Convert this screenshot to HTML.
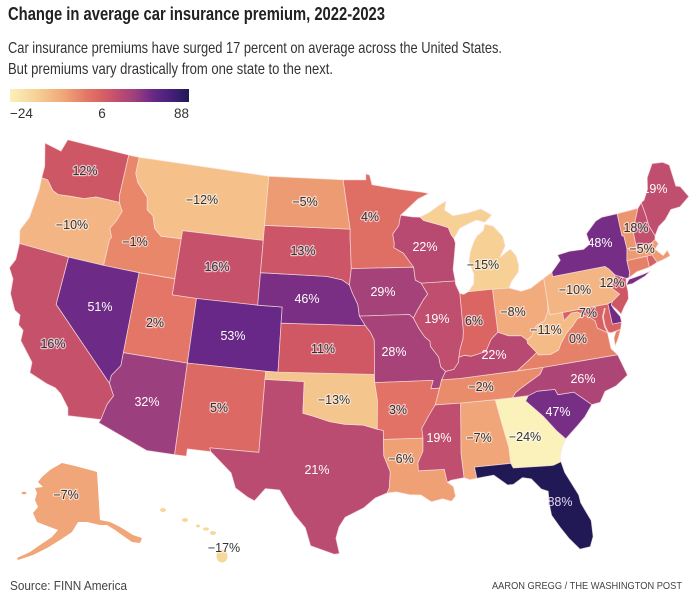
<!DOCTYPE html>
<html><head><meta charset="utf-8"><style>
html,body{margin:0;padding:0;background:#fff;}
svg{display:block;}
text{font-family:"Liberation Sans",Arial,sans-serif;}
.lb{font-size:12.5px;text-anchor:middle;}
.dk{fill:#333;stroke:rgba(255,255,255,0.6);stroke-width:2.4px;paint-order:stroke;stroke-linejoin:round;}
.wh{fill:#fff;}
</style></head><body>
<svg id="m" width="696" height="600" viewBox="0 0 696 600" xmlns="http://www.w3.org/2000/svg">
<defs>
<linearGradient id="lg" x1="0" x2="1" y1="0" y2="0">
<stop offset="0" stop-color="#fbf1bb"/>
<stop offset="0.15" stop-color="#f6d095"/>
<stop offset="0.3" stop-color="#f0a678"/>
<stop offset="0.43" stop-color="#e37666"/>
<stop offset="0.5" stop-color="#da6562"/>
<stop offset="0.6" stop-color="#c14e6d"/>
<stop offset="0.7" stop-color="#9c3f7e"/>
<stop offset="0.8" stop-color="#682887"/>
<stop offset="0.9" stop-color="#45207a"/>
<stop offset="1" stop-color="#211955"/>
</linearGradient>
</defs>
<rect width="696" height="600" fill="#fff"/>
<text x="8" y="20" font-size="18.5" font-weight="bold" fill="#222" textLength="377" lengthAdjust="spacingAndGlyphs">Change in average car insurance premium, 2022-2023</text>
<text x="8" y="53" font-size="16" fill="#333" textLength="494" lengthAdjust="spacingAndGlyphs">Car insurance premiums have surged 17 percent on average across the United States.</text>
<text x="8" y="74" font-size="16" fill="#333" textLength="325" lengthAdjust="spacingAndGlyphs">But premiums vary drastically from one state to the next.</text>
<rect x="10" y="89" width="179" height="13" fill="url(#lg)"/>
<text x="10" y="118" font-size="13.5" fill="#333">−24</text>
<text x="102" y="118" font-size="13.5" fill="#333" text-anchor="middle">6</text>
<text x="189" y="118" font-size="13.5" fill="#333" text-anchor="end">88</text>

<g id="states" stroke="#fbe3e0" stroke-opacity="0.75" stroke-width="0.8" stroke-linejoin="round"></g>

<g id="insets" stroke="none">
<polygon fill="#f0a678" points="42,477 50,470 62,463 75,466 90,470 97,472 100,520 110,522 120,527 133,535 142,538 140,543 132,542 122,535 115,530 107,525 100,525 87,522 78,522 72,532 60,540 47,548 33,555 18,560 17,558 30,552 40,545 52,537 58,530 50,527 37,522 33,513 38,507 35,500 37,493 35,488 43,487 38,482"/>
<ellipse cx="24" cy="493" rx="2.5" ry="1.2" fill="#f0a678"/>
<g fill="#f7d79a">
<ellipse cx="163" cy="510" rx="3" ry="2"/>
<ellipse cx="185" cy="520" rx="3" ry="2"/>
<ellipse cx="198" cy="526" rx="2" ry="1.5"/>
<ellipse cx="206" cy="529" rx="3" ry="1.6"/>
<ellipse cx="213" cy="533" rx="3" ry="2"/>
<ellipse cx="222" cy="556" rx="5.5" ry="6.5"/>
</g>
</g>

<g id="labels">
<text class="lb dk" x="85" y="175">12%</text>
<text class="lb dk" x="202" y="204">−12%</text>
<text class="lb dk" x="305" y="206">−5%</text>
<text class="lb dk" x="72" y="229">−10%</text>
<text class="lb dk" x="135" y="246">−1%</text>
<text class="lb dk" x="303" y="255">13%</text>
<text class="lb dk" x="217" y="271">16%</text>
<text class="lb wh" x="307" y="303">46%</text>
<text class="lb wh" x="100" y="311">51%</text>
<text class="lb dk" x="155" y="327">2%</text>
<text class="lb wh" x="233" y="340">53%</text>
<text class="lb dk" x="53" y="348">16%</text>
<text class="lb dk" x="323" y="353">11%</text>
<text class="lb wh" x="655" y="193">19%</text>
<text class="lb dk" x="370" y="221">4%</text>
<text class="lb dk" x="636" y="232">18%</text>
<text class="lb wh" x="425" y="251">22%</text>
<text class="lb wh" x="600" y="247">48%</text>
<text class="lb dk" x="642" y="253">−5%</text>
<text class="lb dk" x="483" y="269">−15%</text>
<text class="lb wh" x="383" y="296">29%</text>
<text class="lb dk" x="575" y="294">−10%</text>
<text class="lb dk" x="612" y="287">12%</text>
<text class="lb dk" x="513" y="316">−8%</text>
<text class="lb dk" x="588" y="317">7%</text>
<text class="lb wh" x="437" y="323">19%</text>
<text class="lb dk" x="474" y="325">6%</text>
<text class="lb dk" x="546" y="334">−11%</text>
<text class="lb dk" x="578" y="343">0%</text>
<text class="lb wh" x="394" y="356">28%</text>
<text class="lb wh" x="494" y="359">22%</text>
<text class="lb wh" x="583" y="383">26%</text>
<text class="lb wh" x="147" y="406">32%</text>
<text class="lb dk" x="219" y="412">5%</text>
<text class="lb dk" x="334" y="404">−13%</text>
<text class="lb wh" x="317" y="474">21%</text>
<text class="lb dk" x="481" y="391">−2%</text>
<text class="lb dk" x="398" y="414">3%</text>
<text class="lb wh" x="558" y="416">47%</text>
<text class="lb wh" x="439" y="442">19%</text>
<text class="lb dk" x="479" y="442">−7%</text>
<text class="lb dk" x="525" y="441">−24%</text>
<text class="lb dk" x="401" y="463">−6%</text>
<text class="lb" x="560" y="506" fill="#e4d6f0">88%</text>
<text class="lb dk" x="66" y="499">−7%</text>
<text class="lb dk" x="224" y="552">−17%</text>
</g>

<text x="10" y="590" font-size="12.5" fill="#444" textLength="117" lengthAdjust="spacingAndGlyphs">Source: FINN America</text>
<text x="682" y="589" font-size="10.5" fill="#444" text-anchor="end" textLength="190" lengthAdjust="spacingAndGlyphs">AARON GREGG / THE WASHINGTON POST</text>
</svg>
<script>
(function(){
var D=Math.PI/180,s1=Math.sin(29.5*D),s2=Math.sin(45.5*D),n=(s1+s2)/2,
C=Math.cos(29.5*D)*Math.cos(29.5*D)+2*n*s1,r0=Math.sqrt(C-2*n*Math.sin(37.5*D))/n;
function P(p){var r=Math.sqrt(C-2*n*Math.sin(p[1]*D))/n,t=n*(p[0]+96)*D;
return (356.6+942*r*Math.sin(t)).toFixed(1)+','+(366.4-926*(r0-r*Math.cos(t))).toFixed(1);}
var stops=[[-24,[251,241,187]],[-15,[246,208,149]],[-12,[245,192,138]],[-10,[243,181,132]],[-7,[240,166,120]],[-5,[237,155,114]],[-1,[232,135,106]],[2,[227,118,102]],[6,[218,101,98]],[11,[208,88,101]],[16,[198,81,107]],[22,[184,74,114]],[29,[165,66,122]],[32,[156,63,126]],[46,[122,47,133]],[53,[104,40,135]],[70,[69,32,122]],[88,[33,25,85]]];
function col(v){for(var i=0;i<stops.length-1;i++){var a=stops[i],b=stops[i+1];if(v<=b[0]){var f=(v-a[0])/(b[0]-a[0]);if(f<0)f=0;var c=a[1].map(function(x,k){return Math.round(x+(b[1][k]-x)*f);});return 'rgb('+c.join(',')+')';}}return 'rgb(33,25,85)';}
var S=[
[12,[[-124.7,48.4],[-123.1,48.2],[-122.8,49.0],[-117.03,49.0],[-117.03,46.42],[-116.92,46.0],[-119.0,46.0],[-120.0,45.72],[-121.2,45.65],[-122.25,45.55],[-122.8,45.7],[-123.5,46.25],[-124.05,46.26],[-124.1,47.0]]],
[-10,[[-124.05,46.26],[-123.5,46.25],[-122.8,45.7],[-122.25,45.55],[-121.2,45.65],[-120.0,45.72],[-119.0,46.0],[-116.92,46.0],[-116.5,45.5],[-116.78,44.9],[-117.2,44.3],[-116.9,43.8],[-117.03,43.6],[-117.03,42.0],[-120.0,42.0],[-124.2,42.0],[-124.5,42.8],[-124.05,43.7],[-123.95,45.5]]],
[-1,[[-117.03,49.0],[-116.05,49.0],[-116.05,47.98],[-115.7,47.45],[-114.6,46.65],[-114.4,45.9],[-113.8,45.6],[-113.45,44.85],[-112.8,44.45],[-111.05,44.5],[-111.05,42.0],[-114.04,42.0],[-117.03,42.0],[-117.03,43.6],[-116.9,43.8],[-117.2,44.3],[-116.78,44.9],[-116.5,45.5],[-116.92,46.0],[-117.03,46.42]]],
[-12,[[-116.05,49.0],[-104.05,49.0],[-104.05,45.94],[-104.05,45.0],[-111.05,45.0],[-111.05,44.5],[-112.8,44.45],[-113.45,44.85],[-113.8,45.6],[-114.4,45.9],[-114.6,46.65],[-115.7,47.45],[-116.05,47.98]]],
[16,[[-111.05,45.0],[-104.05,45.0],[-104.05,43.0],[-104.05,41.0],[-109.05,41.0],[-111.05,41.0],[-111.05,42.0],[-111.05,44.5]]],
[51,[[-120.0,42.0],[-117.03,42.0],[-114.04,42.0],[-114.04,37.0],[-114.04,36.2],[-114.6,35.5],[-114.63,35.0],[-120.0,39.0]]],
[2,[[-114.04,42.0],[-111.05,42.0],[-111.05,41.0],[-109.05,41.0],[-109.05,37.0],[-114.04,37.0]]],
[32,[[-114.04,37.0],[-109.05,37.0],[-109.05,31.33],[-111.07,31.33],[-114.82,32.5],[-114.72,32.72],[-114.5,33.7],[-114.15,34.3],[-114.63,35.0],[-114.6,35.5],[-114.04,36.2]]],
[16,[[-124.2,42.0],[-120.0,42.0],[-120.0,39.0],[-114.63,35.0],[-114.15,34.3],[-114.5,33.7],[-114.72,32.72],[-117.12,32.53],[-117.25,33.0],[-118.0,33.75],[-118.5,34.03],[-119.2,34.15],[-120.6,34.55],[-120.65,35.2],[-121.9,36.3],[-121.95,36.95],[-122.4,37.2],[-122.5,37.8],[-123.0,38.0],[-123.7,38.9],[-123.85,39.8],[-124.4,40.4],[-124.1,41.0]]],
[53,[[-109.05,41.0],[-104.05,41.0],[-102.05,41.0],[-102.05,40.0],[-102.05,37.0],[-103.0,37.0],[-109.05,37.0]]],
[5,[[-109.05,37.0],[-103.0,37.0],[-103.0,36.5],[-103.05,32.0],[-106.6,32.0],[-106.5,31.78],[-108.2,31.78],[-108.2,31.33],[-109.05,31.33]]],
[21,[[-103.0,36.5],[-100.0,36.5],[-100.0,34.56],[-99.2,34.4],[-98.0,34.1],[-96.9,33.95],[-95.5,33.9],[-94.48,33.64],[-94.04,33.55],[-94.04,33.0],[-94.04,32.0],[-93.6,31.0],[-93.7,30.0],[-93.85,29.7],[-94.7,29.4],[-95.5,28.8],[-96.8,28.2],[-97.2,27.6],[-97.4,26.9],[-97.15,25.95],[-97.5,25.9],[-99.1,26.4],[-99.5,27.5],[-100.3,28.3],[-101.4,29.77],[-102.4,29.8],[-103.1,29.0],[-103.6,29.2],[-104.5,29.7],[-104.9,30.6],[-106.5,31.78],[-106.6,32.0],[-103.05,32.0]]],
[-13,[[-103.0,37.0],[-102.05,37.0],[-94.62,37.0],[-94.62,36.5],[-94.43,35.4],[-94.48,33.64],[-95.5,33.9],[-96.9,33.95],[-98.0,34.1],[-99.2,34.4],[-100.0,34.56],[-100.0,36.5],[-103.0,36.5]]],
[11,[[-102.05,40.0],[-95.3,40.0],[-94.9,39.6],[-94.6,39.1],[-94.62,37.0],[-102.05,37.0]]],
[46,[[-104.05,43.0],[-98.5,43.0],[-97.2,42.8],[-96.6,42.5],[-96.35,42.0],[-95.9,41.3],[-95.77,40.58],[-95.3,40.0],[-102.05,40.0],[-102.05,41.0],[-104.05,41.0]]],
[13,[[-104.05,45.94],[-96.56,45.94],[-96.56,45.4],[-96.45,43.5],[-96.6,42.5],[-97.2,42.8],[-98.5,43.0],[-104.05,43.0]]],
[-5,[[-104.05,49.0],[-97.23,49.0],[-96.9,47.5],[-96.56,45.94],[-104.05,45.94]]],
[4,[[-97.23,49.0],[-95.15,49.0],[-95.15,49.38],[-94.8,49.3],[-94.6,48.7],[-93.5,48.55],[-92.0,48.35],[-90.0,48.1],[-89.5,48.0],[-90.5,47.7],[-92.1,46.75],[-92.3,46.1],[-92.85,45.6],[-92.75,45.0],[-92.8,44.75],[-92.0,44.4],[-91.2,43.5],[-96.45,43.5],[-96.56,45.4],[-96.56,45.94],[-96.9,47.5]]],
[29,[[-96.45,43.5],[-91.2,43.5],[-91.1,42.7],[-90.64,42.5],[-90.15,41.8],[-90.5,41.5],[-91.1,40.8],[-91.42,40.38],[-91.73,40.61],[-95.77,40.58],[-95.9,41.3],[-96.35,42.0],[-96.6,42.5]]],
[28,[[-95.77,40.58],[-91.73,40.61],[-91.42,40.38],[-91.0,39.7],[-90.6,39.2],[-90.2,38.9],[-90.2,38.6],[-89.6,37.9],[-89.5,37.3],[-89.15,37.0],[-89.5,36.5],[-89.7,36.0],[-90.37,36.0],[-90.15,36.5],[-94.62,36.5],[-94.62,37.0],[-94.6,39.1],[-94.9,39.6],[-95.3,40.0]]],
[3,[[-94.62,36.5],[-90.15,36.5],[-90.37,36.0],[-89.7,36.0],[-90.1,35.0],[-90.6,34.4],[-91.2,33.6],[-91.15,33.0],[-94.04,33.0],[-94.04,33.55],[-94.48,33.64],[-94.43,35.4]]],
[-6,[[-94.04,33.0],[-91.15,33.0],[-91.2,32.2],[-91.6,31.5],[-91.6,31.0],[-89.75,31.0],[-89.6,30.2],[-89.2,29.9],[-89.1,29.3],[-89.4,29.0],[-90.0,29.2],[-90.8,29.05],[-91.5,29.5],[-92.3,29.55],[-93.2,29.75],[-93.85,29.7],[-93.7,30.0],[-93.6,31.0],[-94.04,32.0]]],
[19,[[-90.1,35.0],[-88.2,35.0],[-88.47,31.9],[-88.4,30.4],[-89.35,30.3],[-89.6,30.2],[-89.75,31.0],[-91.6,31.0],[-91.6,31.5],[-91.2,32.2],[-91.15,33.0],[-91.2,33.6],[-90.6,34.4]]],
[-7,[[-88.2,35.0],[-85.6,35.0],[-85.18,32.9],[-85.0,32.0],[-85.0,31.0],[-87.6,31.0],[-87.5,30.3],[-88.0,30.25],[-88.4,30.4],[-88.47,31.9]]],
[-24,[[-85.6,35.0],[-84.3,35.0],[-83.1,35.0],[-83.35,34.7],[-82.2,33.6],[-81.4,32.6],[-80.85,32.05],[-81.2,31.6],[-81.45,31.0],[-81.45,30.7],[-82.0,30.55],[-82.2,30.55],[-83.0,30.6],[-84.86,30.7],[-85.0,31.0],[-85.0,32.0],[-85.18,32.9]]],
[88,[[-87.6,31.0],[-85.0,31.0],[-84.86,30.7],[-83.0,30.6],[-82.2,30.55],[-82.0,30.55],[-81.45,30.7],[-81.3,30.0],[-80.6,28.5],[-80.55,28.0],[-80.05,26.8],[-80.1,25.8],[-80.4,25.2],[-81.1,25.15],[-81.7,25.9],[-82.2,26.7],[-82.65,27.5],[-82.7,28.2],[-82.65,29.0],[-83.1,29.2],[-83.7,29.9],[-84.3,30.05],[-85.0,29.7],[-85.4,29.7],[-86.3,30.4],[-87.5,30.3]]],
[47,[[-83.1,35.0],[-82.4,35.2],[-81.05,35.15],[-80.9,34.8],[-79.7,34.8],[-78.55,33.85],[-79.2,33.2],[-79.9,32.7],[-80.85,32.05],[-81.4,32.6],[-82.2,33.6],[-83.35,34.7]]],
[26,[[-84.3,35.0],[-83.1,35.0],[-82.4,35.2],[-81.05,35.15],[-80.9,34.8],[-79.7,34.8],[-78.55,33.85],[-77.9,33.9],[-77.4,34.5],[-76.5,34.7],[-75.5,35.2],[-75.9,36.55],[-81.68,36.59],[-82.0,36.2],[-83.5,35.55],[-84.0,35.3]]],
[-2,[[-90.1,35.0],[-88.2,35.0],[-85.6,35.0],[-84.3,35.0],[-84.0,35.3],[-83.5,35.55],[-82.0,36.2],[-81.68,36.59],[-83.67,36.6],[-88.05,36.5],[-89.5,36.5],[-89.7,36.0]]],
[22,[[-89.5,36.5],[-88.05,36.5],[-83.67,36.6],[-82.6,37.2],[-82.0,37.55],[-82.6,38.2],[-82.6,38.4],[-83.0,38.7],[-84.0,38.8],[-84.8,39.1],[-85.4,38.7],[-85.9,38.0],[-86.5,37.9],[-87.1,37.8],[-87.6,37.9],[-88.05,37.8],[-88.1,37.5],[-88.5,37.1],[-89.15,37.0]]],
[0,[[-83.67,36.6],[-81.68,36.59],[-75.9,36.55],[-76.3,37.0],[-76.3,38.0],[-77.0,38.4],[-77.05,38.85],[-77.5,39.2],[-77.8,39.3],[-78.4,39.2],[-78.9,38.8],[-79.5,38.4],[-80.0,37.9],[-80.3,37.5],[-81.0,37.3],[-81.9,37.4],[-82.0,37.55],[-82.6,37.2]]],
[0,[[-75.65,37.95],[-75.25,38.03],[-75.6,37.5],[-75.95,37.1],[-75.9,37.6]]],
[-11,[[-82.6,38.4],[-82.6,38.2],[-82.0,37.55],[-81.9,37.4],[-81.0,37.3],[-80.3,37.5],[-80.0,37.9],[-79.5,38.4],[-78.9,38.8],[-78.4,39.2],[-77.8,39.3],[-78.3,39.6],[-78.8,39.6],[-79.48,39.21],[-79.48,39.72],[-80.52,39.72],[-80.52,40.64],[-80.6,40.0],[-81.0,39.4],[-81.7,39.2],[-82.2,38.6]]],
[7,[[-79.48,39.72],[-75.79,39.72],[-75.79,38.45],[-75.05,38.45],[-75.25,38.03],[-75.95,37.95],[-76.3,38.0],[-77.0,38.4],[-77.05,38.85],[-77.5,39.2],[-77.8,39.3],[-78.3,39.6],[-78.8,39.6],[-79.48,39.21]]],
[50,[[-75.79,39.72],[-75.4,39.8],[-75.55,39.6],[-75.4,39.3],[-75.05,38.8],[-75.05,38.45],[-75.79,38.45]]],
[-10,[[-80.52,39.72],[-80.52,40.64],[-80.52,41.98],[-79.76,42.27],[-79.76,42.0],[-75.36,42.0],[-75.1,41.8],[-74.7,41.35],[-75.1,40.85],[-75.2,40.6],[-74.7,40.15],[-75.4,39.8],[-75.79,39.72],[-79.48,39.72]]],
[12,[[-74.7,41.35],[-73.9,41.0],[-74.0,40.7],[-74.0,40.2],[-74.1,39.75],[-74.6,39.3],[-74.95,38.93],[-75.2,39.25],[-75.55,39.6],[-75.4,39.8],[-74.7,40.15],[-75.2,40.6],[-75.1,40.85]]],
[48,[[-79.76,42.0],[-79.76,42.27],[-78.9,42.9],[-79.05,43.25],[-78.0,43.35],[-76.8,43.3],[-76.2,43.55],[-76.3,44.2],[-75.3,44.85],[-74.7,45.0],[-73.35,45.0],[-73.4,43.6],[-73.25,43.57],[-73.25,42.75],[-73.49,42.05],[-73.5,41.3],[-73.66,41.0],[-73.9,41.0],[-74.7,41.35],[-75.1,41.8],[-75.36,42.0]]],
[48,[[-74.0,40.6],[-73.7,40.9],[-72.6,40.98],[-71.87,41.07],[-72.4,40.85],[-73.5,40.6]]],
[-8,[[-80.52,40.64],[-80.52,41.98],[-81.7,41.5],[-82.5,41.4],[-83.45,41.7],[-84.82,41.76],[-84.8,39.1],[-84.0,38.8],[-83.0,38.7],[-82.6,38.4],[-82.2,38.6],[-81.7,39.2],[-81.0,39.4],[-80.6,40.0]]],
[6,[[-84.82,41.76],[-86.8,41.76],[-87.2,41.62],[-87.52,41.7],[-87.52,39.35],[-87.6,38.9],[-87.9,38.3],[-88.05,37.8],[-87.6,37.9],[-87.1,37.8],[-86.5,37.9],[-85.9,38.0],[-85.4,38.7],[-84.8,39.1]]],
[19,[[-87.52,41.7],[-87.8,42.3],[-87.8,42.49],[-90.64,42.5],[-90.15,41.8],[-90.5,41.5],[-91.1,40.8],[-91.42,40.38],[-91.0,39.7],[-90.6,39.2],[-90.2,38.9],[-90.2,38.6],[-89.6,37.9],[-89.5,37.3],[-89.15,37.0],[-88.5,37.1],[-88.1,37.5],[-88.05,37.8],[-87.9,38.3],[-87.6,38.9],[-87.52,39.35]]],
[22,[[-92.1,46.75],[-92.3,46.1],[-92.85,45.6],[-92.75,45.0],[-92.8,44.75],[-92.0,44.4],[-91.2,43.5],[-91.1,42.7],[-90.64,42.5],[-87.8,42.49],[-87.9,43.2],[-87.7,44.0],[-87.5,44.8],[-87.6,45.1],[-87.8,45.35],[-88.0,45.8],[-88.7,46.0],[-90.1,46.35],[-90.4,46.57],[-91.0,46.6]]],
[-15,[[-86.8,41.76],[-84.82,41.76],[-83.45,41.7],[-83.2,42.05],[-82.5,42.6],[-82.4,43.0],[-82.5,43.6],[-82.9,44.05],[-83.3,43.9],[-83.9,43.6],[-83.3,44.3],[-83.4,44.9],[-84.1,45.6],[-84.8,45.78],[-85.0,45.4],[-85.6,45.1],[-85.9,44.8],[-86.3,44.2],[-86.5,43.6],[-86.2,42.8],[-86.3,42.2]]],
[-15,[[-90.4,46.57],[-90.1,46.35],[-88.7,46.0],[-88.0,45.8],[-87.8,45.35],[-87.6,45.1],[-87.0,45.7],[-86.3,45.9],[-85.5,46.1],[-84.8,45.9],[-84.6,46.0],[-84.1,46.3],[-84.5,46.5],[-85.0,46.75],[-86.1,46.6],[-87.5,46.5],[-88.2,46.9],[-88.0,47.45],[-88.7,47.2],[-89.5,46.85]]],
[-4,[[-73.35,45.0],[-71.5,45.01],[-72.0,44.3],[-72.4,43.6],[-72.45,42.73],[-73.25,42.75],[-73.25,43.57],[-73.4,43.6]]],
[18,[[-71.5,45.01],[-71.08,45.3],[-71.0,44.5],[-70.98,43.8],[-70.7,43.1],[-70.8,42.87],[-71.2,42.72],[-72.45,42.73],[-72.4,43.6],[-72.0,44.3]]],
[19,[[-71.08,45.3],[-70.8,45.4],[-70.25,46.0],[-70.0,46.7],[-69.23,47.45],[-68.3,47.35],[-67.8,47.07],[-67.8,45.7],[-67.45,45.6],[-67.0,44.85],[-68.0,44.4],[-68.8,44.4],[-69.5,43.9],[-70.2,43.6],[-70.7,43.1],[-70.98,43.8],[-71.0,44.5]]],
[-5,[[-73.49,42.05],[-73.25,42.75],[-72.45,42.73],[-71.2,42.72],[-70.8,42.87],[-70.6,42.6],[-71.0,42.3],[-70.5,41.8],[-70.05,42.05],[-69.95,41.67],[-70.65,41.55],[-71.12,41.5],[-71.38,42.02],[-71.8,42.02]]],
[8,[[-71.8,42.02],[-71.38,42.02],[-71.12,41.5],[-71.85,41.32]]],
[0,[[-73.49,42.05],[-71.8,42.02],[-71.85,41.32],[-72.9,41.25],[-73.66,41.0],[-73.5,41.3]]]
];
var g=document.getElementById('states'),ns='http://www.w3.org/2000/svg';
S.forEach(function(s){var p=document.createElementNS(ns,'polygon');
p.setAttribute('points',s[1].map(P).join(' '));p.setAttribute('fill',col(s[0]));g.appendChild(p);});
var bay=document.createElementNS(ns,'polyline');
bay.setAttribute('points',[[-76.1,39.5],[-76.4,39.0],[-76.4,38.4],[-76.15,37.7],[-76.0,37.2]].map(P).join(' '));
bay.setAttribute('fill','none');bay.setAttribute('stroke','#fff');bay.setAttribute('stroke-width','1.6');g.appendChild(bay);
})();
</script>
</body></html>
